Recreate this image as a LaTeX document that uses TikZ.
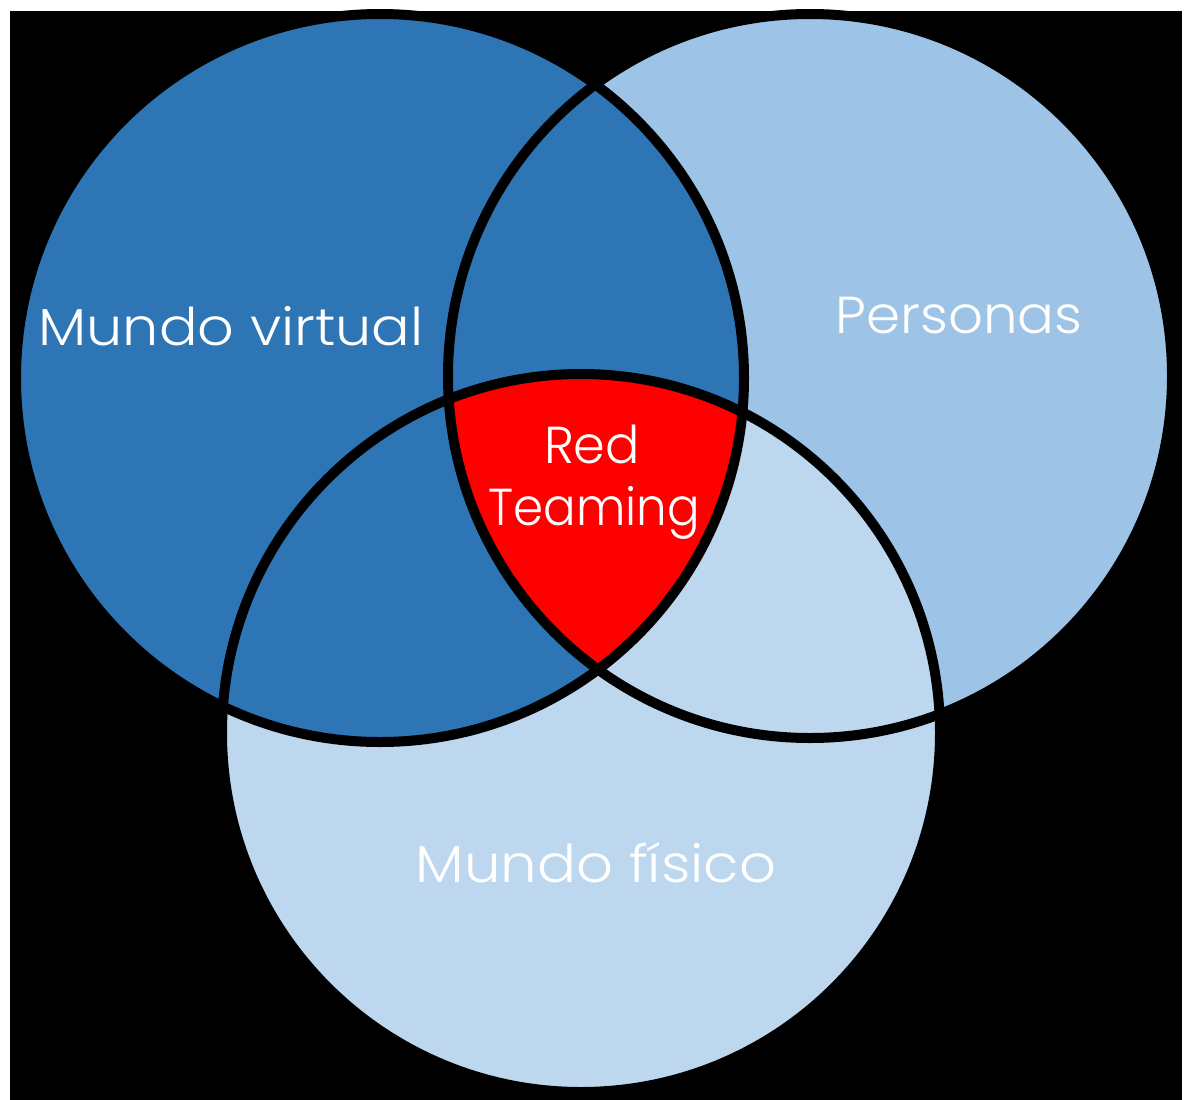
\documentclass[tikz,border=0pt]{standalone}
\usepackage{fontspec}
\setmainfont{Poppins}[UprightFont=* Light]
\definecolor{darkB}{HTML}{2E75B6}
\definecolor{midB}{HTML}{9DC3E6}
\definecolor{paleB}{HTML}{BDD7EE}
\definecolor{core}{HTML}{FF0000}
\tikzset{
  lbl/.style={text=white, inner sep=0pt, anchor=base, font=\fontsize{52}{60}\selectfont},
  ring/.style={draw=black, line width=10pt}
}
\begin{document}
\begin{tikzpicture}[x=1pt,y=-1pt]
\useasboundingbox (0,0) rectangle (1191,1100);
\fill[white] (0,0) rectangle (1191,1100);
\fill[black] (10,11) rectangle (1182,1100);
\coordinate (cL) at (380,378);
\coordinate (cR) at (810,376);
\coordinate (cB) at (581,733);
% fills
\fill[midB] (cR) circle (362pt);
\fill[paleB] (cB) circle (359pt);
\fill[darkB] (cL) circle (364pt);
\begin{scope}
  \clip (cL) circle (364pt);
  \clip (cR) circle (362pt);
  \fill[core] (cB) circle (359pt);
\end{scope}
% outlines
\draw[ring] (cR) circle (362pt);
\draw[ring] (cB) circle (359pt);
\draw[ring] (cL) circle (364pt);
% labels
\node[lbl] (tv) at (231,345) {\scalebox{1.10}[1]{Mundo virtual}};
\node[lbl] (tp) at (959,333) {\scalebox{1.05}[1]{Personas}};
\node[lbl] (tr1) at (592,463) {\scalebox{0.98}[1]{Red}};
\node[lbl] (tr2) at (594,525) {\scalebox{0.93}[1]{Teaming}};
\node[lbl] (tf) at (596,882) {\scalebox{1.11}[1]{Mundo físico}};
\end{tikzpicture}
\end{document}
